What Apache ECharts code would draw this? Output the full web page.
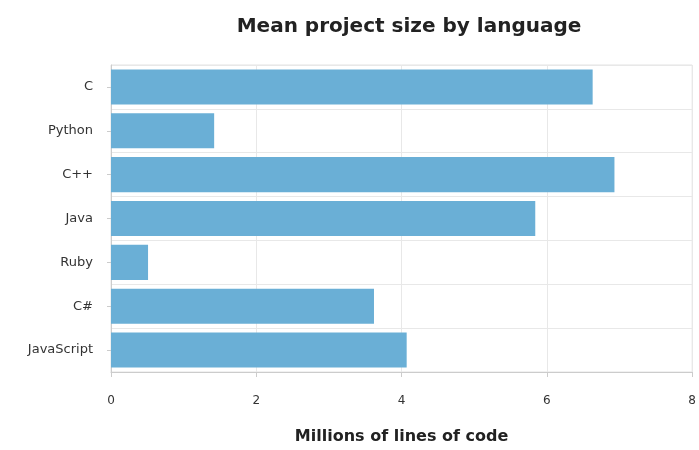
<!DOCTYPE html>
<html><head><meta charset="utf-8">
<script src="https://cdn.jsdelivr.net/npm/echarts@6/dist/echarts.min.js"></script>
<style>html,body{margin:0;padding:0;background:#fff}#c{width:699px;height:450px}</style>
</head><body><div id="c"></div>
<script>
var categories = ["C", "Python", "C++", "Java", "Ruby", "C#", "JavaScript"];
var values = [6.63, 1.42, 6.93, 5.84, 0.51, 3.62, 4.07];
var xTicks = [0, 2, 4, 6, 8];

var chart = echarts.init(document.getElementById('c'));
chart.setOption({
  animation: false,
  title: {
    text: 'Mean project size by language',
    left: 404, top: 12, textAlign: 'center',
    textStyle: {fontFamily: 'DejaVu Sans', fontWeight: 'bold', fontSize: 20, color: '#222'}
  },
  grid: {left: 111, right: 4, top: 65, bottom: 75, show: true, borderColor: '#e3e3e3', borderWidth: 1},
  xAxis: {
    type: 'value', min: 0, max: 8, interval: 2,
    name: 'Millions of lines of code', nameLocation: 'middle', nameGap: 57,
    nameTextStyle: {fontFamily: 'DejaVu Sans', fontWeight: 'bold', fontSize: 16, color: '#222'},
    axisLine: {show: true, lineStyle: {color: '#ccc'}},
    axisTick: {show: true, length: 5, lineStyle: {color: '#ccc'}},
    axisLabel: {fontFamily: 'DejaVu Sans', fontSize: 12, color: '#333', margin: 23,
      formatter: function (v) { return xTicks.indexOf(v) >= 0 ? String(v) : ''; }},
    splitLine: {show: true, lineStyle: {color: '#e8e8e8'}}
  },
  yAxis: {
    type: 'category', data: categories, inverse: true,
    axisLine: {show: true, lineStyle: {color: '#ccc'}},
    axisTick: {show: true, length: 4, alignWithLabel: true, lineStyle: {color: '#ccc'}},
    axisLabel: {fontFamily: 'DejaVu Sans', fontSize: 13, color: '#333', margin: 18},
    splitLine: {show: true, lineStyle: {color: '#e8e8e8'}}
  },
  series: [{
    type: 'bar', data: values, barCategoryGap: '20%',
    itemStyle: {color: '#6aafd6'}
  }]
});
</script></body></html>
